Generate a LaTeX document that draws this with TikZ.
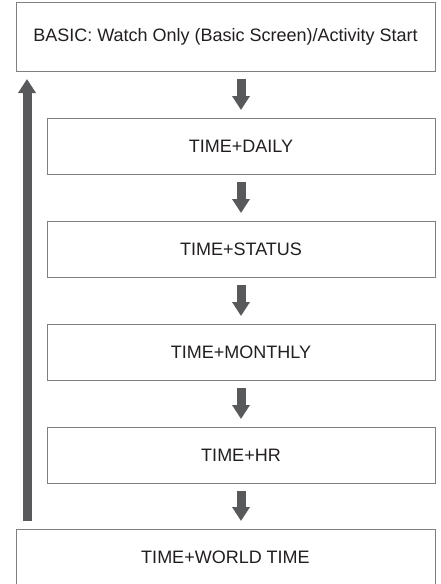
\documentclass[tikz,border=0pt]{standalone}
\usepackage{fontspec}
\setmainfont{Liberation Sans}
\usetikzlibrary{arrows.meta}
\definecolor{arrowgray}{HTML}{58595B}
\definecolor{boxgray}{HTML}{7F7F7F}
\definecolor{textdark}{HTML}{231F20}
\tikzset{
  stepbox/.style={draw=boxgray, line width=1pt, fill=white, inner sep=0pt,
    text=textdark, font=\fontsize{18}{21}\selectfont},
  topbox/.style={stepbox, minimum width=419pt, minimum height=69pt},
  midbox/.style={stepbox, minimum width=388pt, minimum height=56pt},
  flowarrow/.style={draw=arrowgray, line width=9pt,
    -{Triangle[width=17pt,length=14pt]}, shorten <=7.5pt, shorten >=7.5pt}
}
\begin{document}
\begin{tikzpicture}[x=1pt,y=-1pt]
\useasboundingbox (0,0) rectangle (440,584);
\begin{scope}
\clip (0,0) rectangle (440,584);
\node[topbox] (basic) at (225.5,36.5) {BASIC: Watch Only (Basic Screen)/Activity Start};
\node[midbox] (daily) at (241,146) {TIME+DAILY};
\node[midbox] (status) at (241,249) {TIME+STATUS};
\node[midbox] (monthly) at (241,352) {TIME+MONTHLY};
\node[midbox] (hr) at (241,455) {TIME+HR};
\node[topbox, minimum height=57pt] (world) at (225.5,557.5) {TIME+WORLD TIME};
\coordinate (ret0) at ([xshift=11.5pt]world.north west);
\coordinate (ret1) at ([xshift=11.5pt]basic.south west);
\draw[flowarrow] (basic.south -| daily.south) -- (daily.north);
\draw[flowarrow] (daily) -- (status);
\draw[flowarrow] (status) -- (monthly);
\draw[flowarrow] (monthly) -- (hr);
\draw[flowarrow] (hr.south) -- (world.north -| hr.south);
\draw[flowarrow] (ret0) -- (ret1);
\end{scope}
\end{tikzpicture}
\end{document}
